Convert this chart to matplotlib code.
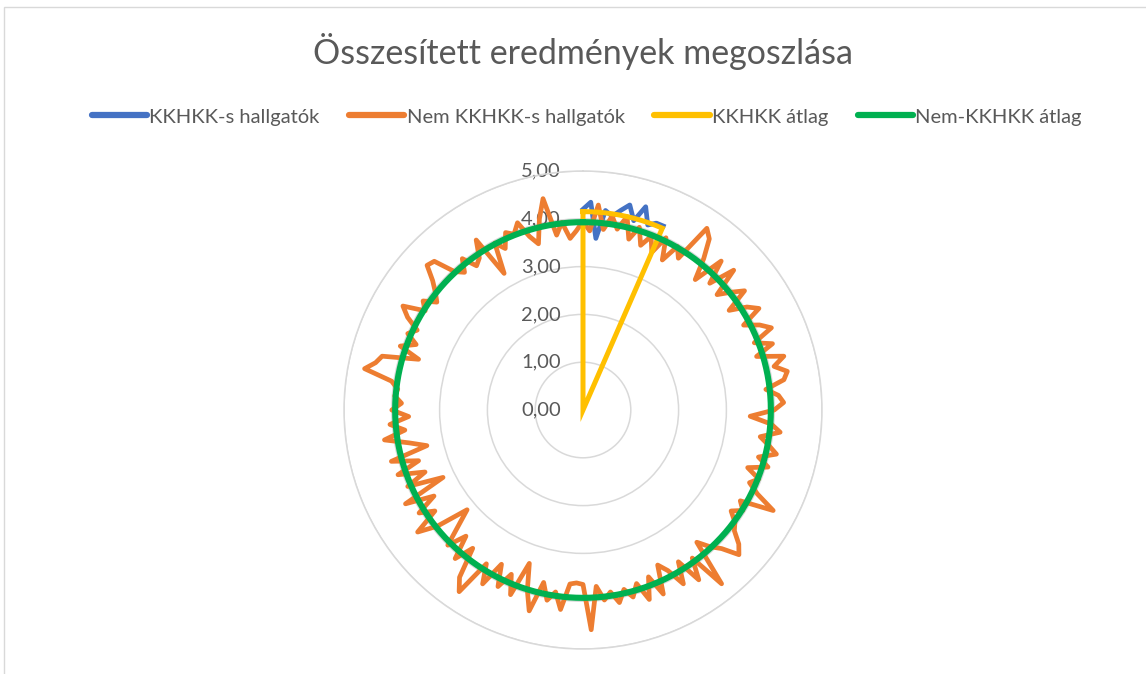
import numpy as np
import matplotlib
matplotlib.use("Agg")
import matplotlib.pyplot as plt
import matplotlib.transforms as mtransforms
from matplotlib.patches import Rectangle

title = "Összesített eredmények megoszlása"
series_names = ["KKHKK-s hallgatók", "Nem KKHKK-s hallgatók", "KKHKK átlag", "Nem-KKHKK átlag"]
colors = ["#4472C4", "#ED7D31", "#FFC000", "#00B050"]
r_ticks = [0, 1, 2, 3, 4, 5]
r_tick_labels = ["0,00", "1,00", "2,00", "3,00", "4,00", "5,00"]

n_categories = 168

kkhkk_values = [4.20, 4.35, 3.60, 4.20, 4.10, 4.25, 4.40, 4.10, 4.45, 4.10, 4.20, 4.20]

nem_kkhkk_values = [
    3.95, 3.75, 4.30, 3.80, 4.10, 3.85, 4.15, 3.70, 4.00, 3.65,
    3.90, 3.60, 4.00, 3.55, 3.95, 3.75, 4.60, 4.45, 4.05, 3.60,
    4.25, 3.75, 4.30, 3.70, 3.95, 4.20, 3.70, 4.05, 4.25, 3.80,
    4.10, 4.30, 3.85, 4.20, 3.80, 4.35, 4.10, 4.35, 4.25, 3.85,
    4.10, 4.20, 4.00, 3.50, 3.95, 4.15, 3.75, 3.95, 4.15, 3.80,
    4.05, 3.65, 3.95, 3.80, 4.05, 4.50, 3.80, 3.95, 3.75, 3.95,
    4.05, 4.30, 4.45, 4.10, 3.90, 3.65, 4.65, 3.85, 4.30, 3.75,
    4.20, 3.80, 3.60, 4.20, 3.75, 4.20, 3.80, 4.05, 3.85, 4.10,
    3.85, 4.00, 3.70, 4.60, 3.65, 3.62, 3.65, 4.20, 3.85, 4.05,
    3.70, 4.35, 3.95, 3.40, 4.15, 3.75, 4.10, 3.65, 4.20, 3.80,
    4.60, 4.35, 3.70, 4.10, 3.60, 4.00, 3.55, 3.20, 3.90, 4.30,
    3.75, 4.05, 3.60, 4.20, 3.25, 4.00, 3.55, 4.10, 3.60, 4.15,
    3.35, 3.70, 4.20, 3.75, 4.05, 3.65, 4.00, 3.80, 3.95, 3.90,
    4.05, 4.65, 4.45, 4.35, 3.60, 4.05, 3.75, 4.00, 3.85, 4.15,
    4.35, 3.90, 4.05, 3.80, 3.95, 4.15, 4.45, 4.40, 3.95, 3.80,
    4.05, 3.75, 3.85, 4.20, 3.30, 3.95, 3.75, 4.05, 3.95, 4.15,
    3.80, 3.60, 4.10, 4.50, 3.70, 3.95, 3.60, 3.75,
]

kkhkk_mean = 4.15
nem_kkhkk_mean = 3.93

# ---- build series -------------------------------------------------------
N = n_categories
K = len(kkhkk_values)
theta = np.arange(N) * 2 * np.pi / N
blue = np.full(N, np.nan)
blue[:K] = kkhkk_values
orange = np.array(nem_kkhkk_values[:N], dtype=float)
yellow = np.zeros(N)
yellow[:K] = kkhkk_mean
green = np.full(N, nem_kkhkk_mean)


def closed(vals):
    return np.append(theta, 2 * np.pi), np.append(vals, vals[0])


W, H = 1146, 674
fig = plt.figure(figsize=(W / 100, H / 100), dpi=100)
fig.patch.set_facecolor("white")

# chart border (light gray)
fig.add_artist(Rectangle((4 / W, -0.05), 1.2, 1 - 7 / H + 0.05, transform=fig.transFigure,
                         fill=False, edgecolor="#d9d9d9", lw=1.0))

cx, cy, R = 583, 410, 239
ax = fig.add_axes([(cx - R) / W, (H - cy - R) / H, 2 * R / W, 2 * R / H], projection="polar")
ax.set_theta_zero_location("N")
ax.set_theta_direction(-1)
ax.set_ylim(0, 5)
ax.set_yticks(r_ticks[1:])
ax.set_yticklabels([])
ax.set_xticks([])
ax.yaxis.grid(True, color="#d9d9d9", lw=1.1)
ax.xaxis.grid(False)
ax.spines["polar"].set_color("#d9d9d9")
ax.spines["polar"].set_linewidth(1.1)
ax.set_facecolor("none")

lw_main = 3.4
t, v = closed(blue)
ax.plot(t, v, color=colors[0], lw=lw_main, zorder=3, solid_joinstyle="round", label=series_names[0])
t, v = closed(orange)
ax.plot(t, v, color=colors[1], lw=lw_main, zorder=4, solid_joinstyle="round", label=series_names[1])
t, v = closed(yellow)
ax.plot(t, v, color=colors[2], lw=3.6, zorder=5, solid_joinstyle="miter", label=series_names[2])
t, v = closed(green)
ax.plot(t, v, color=colors[3], lw=4.4, zorder=6, label=series_names[3])

off = mtransforms.offset_copy(ax.transData, fig=fig, x=-22, y=0, units="dots")
for rt, lab in zip(r_ticks, r_tick_labels):
    ax.text(0, rt, lab, transform=off, ha="right", va="center", fontsize=14.5,
            color="#595959", family="Lato", zorder=2, clip_on=False)

fig.text(0.5085, 1 - 52 / H, title, ha="center", va="center", fontsize=24.5,
         color="#595959", family="Lato")

handles, labels = ax.get_legend_handles_labels()
leg = fig.legend(handles, labels, loc="center", bbox_to_anchor=(0.512, 1 - 117 / H), ncol=4,
                 frameon=False, handlelength=2.75, handletextpad=0.12,
                 columnspacing=1.45, prop={"family": "Lato", "size": 14.5})
for txt in leg.get_texts():
    txt.set_color("#595959")
for ln in leg.get_lines():
    ln.set_linewidth(4.5)
    ln.set_solid_capstyle("round")

fig.savefig("out.png", dpi=100, facecolor="white")
